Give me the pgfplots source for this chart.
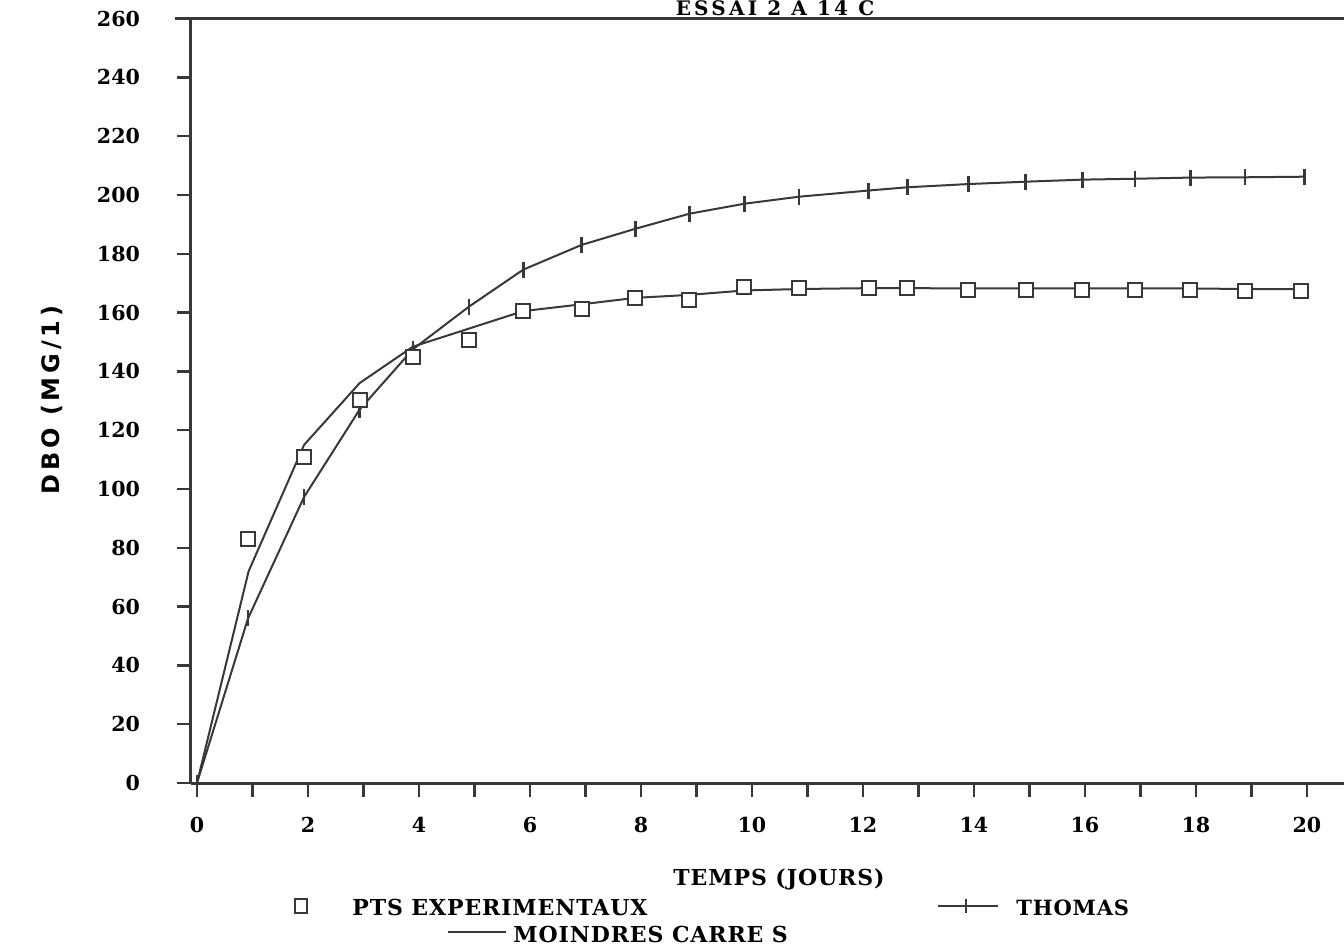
\documentclass[border=0pt]{standalone}
\usepackage{pgfplots}
\pgfplotsset{compat=1.18}
\usepackage{fontspec}
\setmainfont{DejaVu Serif}
\newfontfamily\ylabfont[LetterSpace=16]{DejaVu Sans}
\newfontfamily\lblfont[LetterSpace=4]{DejaVu Serif}
\newfontfamily\titfont[LetterSpace=16]{DejaVu Serif}
\definecolor{ink}{gray}{0.22}

\begin{document}
\begin{tikzpicture}
\begin{axis}[
  scale only axis, width=576.5pt, height=382.25pt,
  at={(0pt,0pt)}, anchor=south west,
  xmin=-0.108, xmax=20.667, ymin=0, ymax=260,
  axis line style={draw=none},
  xtick={0,...,20},
  xticklabels={0,,2,,4,,6,,8,,10,,12,,14,,16,,18,,20},
  ytick={0,20,...,260},
  tick align=outside,
  xtick pos=left, ytick pos=left,
  major tick length=7pt,
  tick style={ink, line width=1.2pt},
  ticklabel style={font=\bfseries\fontsize{10.3}{12}\selectfont, text=black},
  xticklabel style={yshift=-6.5pt},
  yticklabel style={xshift=-15pt},
  /pgf/number format/assume math mode=true,
  clip=false,
]
% Thomas
\addplot[ink, line width=1pt, mark=|, mark size=4pt, mark options={solid, line width=1.3pt}] coordinates {
(0,0) (0.92,56) (1.93,97.3) (2.93,127) (3.89,147.5) (4.9,162) (5.88,174.6) (6.93,183) (7.9,188.5) (8.87,193.6) (9.86,197) (10.85,199.4) (12.1,201.5) (12.8,202.6) (13.9,203.7) (14.93,204.5) (15.95,205.2) (16.9,205.5) (17.9,205.9) (18.88,206) (19.95,206.2)
};
% Moindres carres
\addplot[ink, line width=1pt] coordinates {
(0,0) (0.93,72) (1.93,115) (2.93,136) (3.89,148.4) (5.88,160.5) (6.93,162.8) (7.9,165) (8.87,166) (9.86,167.5) (10.85,168) (12.1,168.3) (12.8,168.3) (13.9,168.2) (14.93,168.2) (15.95,168.2) (16.9,168.2) (17.9,168.2) (18.88,168) (19.9,168)
};
% Points experimentaux
\addplot[only marks, mark=square*, mark size=3.5pt, mark options={fill=white, draw=ink, line width=1pt}] coordinates {
(0.92,83) (1.93,111) (2.93,130.3) (3.89,145) (4.9,150.8) (5.88,160.6) (6.93,161.3) (7.9,165) (8.87,164.4) (9.86,168.8) (10.85,168.5) (12.1,168.5) (12.8,168.2) (13.9,167.8) (14.93,167.8) (15.95,167.8) (16.9,167.8) (17.9,167.8) (18.88,167.4) (19.9,167.4)
};
\end{axis}
% frame
\draw[ink, line width=1.5pt] (0pt,0pt) -- (0pt,382.25pt);
\draw[ink, line width=1.5pt] (0pt,0pt) -- (585pt,0pt);
\draw[ink, line width=1.5pt] (-8pt,382.25pt) -- (585pt,382.25pt);
% title
\node[anchor=base, inner sep=0pt, font=\titfont\bfseries\fontsize{10}{11}\selectfont] at (292pt,383.8pt) {ESSAI 2 A 14 C};
% y label
\node[rotate=90, font=\ylabfont\bfseries\fontsize{12}{14}\selectfont] at (-69.5pt,191.5pt) {DBO (MG/1)};
% x label
\node[anchor=base, font=\lblfont\bfseries\fontsize{11}{13}\selectfont] at (294pt,-51pt) {TEMPS (JOURS)};
% legend
\draw[ink, line width=1pt] (52pt,-65pt) rectangle (58pt,-58pt);
\node[anchor=base west, inner sep=0pt, font=\lblfont\bfseries\fontsize{11}{13}\selectfont] at (80.5pt,-66pt) {PTS EXPERIMENTAUX};
\draw[ink, line width=1.4pt] (373.5pt,-61.5pt) -- (403.5pt,-61.5pt);
\draw[ink, line width=1.4pt] (387.5pt,-65pt) -- (387.5pt,-58pt);
\node[anchor=base west, inner sep=0pt, font=\lblfont\bfseries\fontsize{10.5}{13}\selectfont] at (412.5pt,-66pt) {THOMAS};
\draw[ink, line width=1.2pt] (128.5pt,-74.5pt) -- (157.5pt,-74.5pt);
\node[anchor=base west, inner sep=0pt, font=\lblfont\bfseries\fontsize{11}{13}\selectfont] at (161pt,-79.5pt) {MOINDRES CARRE S};
\pgfresetboundingbox
\useasboundingbox (-95.5pt,-83.5pt) rectangle (576.5pt,391.5pt);
\end{tikzpicture}
\end{document}
